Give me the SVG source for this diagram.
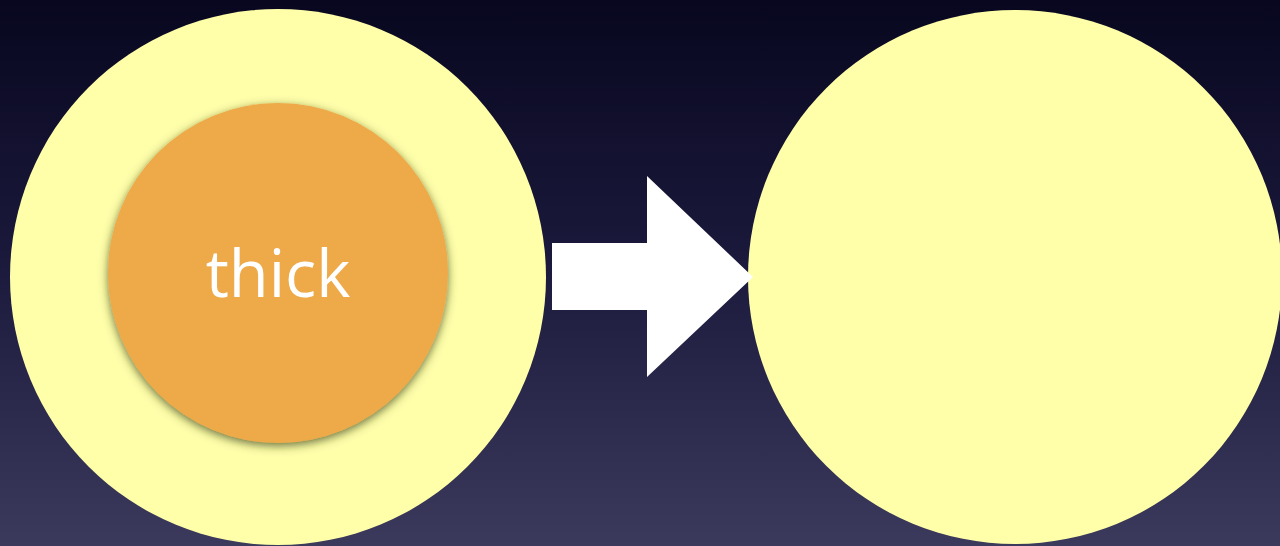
<svg xmlns="http://www.w3.org/2000/svg" width="1280" height="546" viewBox="0 0 1280 546">
  <defs>
    <linearGradient id="bg" x1="0" y1="0" x2="0" y2="1">
      <stop offset="0" stop-color="#08071f"/>
      <stop offset="0.5" stop-color="#1c1a3d"/>
      <stop offset="1" stop-color="#3b3a5c"/>
    </linearGradient>
    <filter id="shadow" x="-20%" y="-20%" width="140%" height="140%">
      <feGaussianBlur in="SourceAlpha" stdDeviation="5"/>
      <feOffset dx="0" dy="3" result="b"/>
      <feFlood flood-color="#3d4418" flood-opacity="0.75"/>
      <feComposite in2="b" operator="in"/>
      <feMerge><feMergeNode/><feMergeNode in="SourceGraphic"/></feMerge>
    </filter>
    <style>
      .outer { fill: #ffffaa; }
      .inner { fill: #eeaa48; }
      .label { fill: #ffffff; font-family: "Open Sans", "Noto Sans", sans-serif; font-size: 65px; }
    </style>
  </defs>
  <rect width="1280" height="546" fill="url(#bg)"/>
  <g id="left-node">
    <circle class="outer" cx="278" cy="277" r="268"/>
    <circle class="inner" cx="278" cy="273" r="170" filter="url(#shadow)"/>
    <text class="label" x="278" y="297" text-anchor="middle">thick</text>
  </g>
  <g id="right-node">
    <circle class="outer" cx="1015" cy="277" r="267"/>
  </g>
  <g id="connectors">
    <polygon points="552,243 647,243 647,176 753,277 647,377 647,310 552,310" fill="#ffffff"/>
  </g>
</svg>
